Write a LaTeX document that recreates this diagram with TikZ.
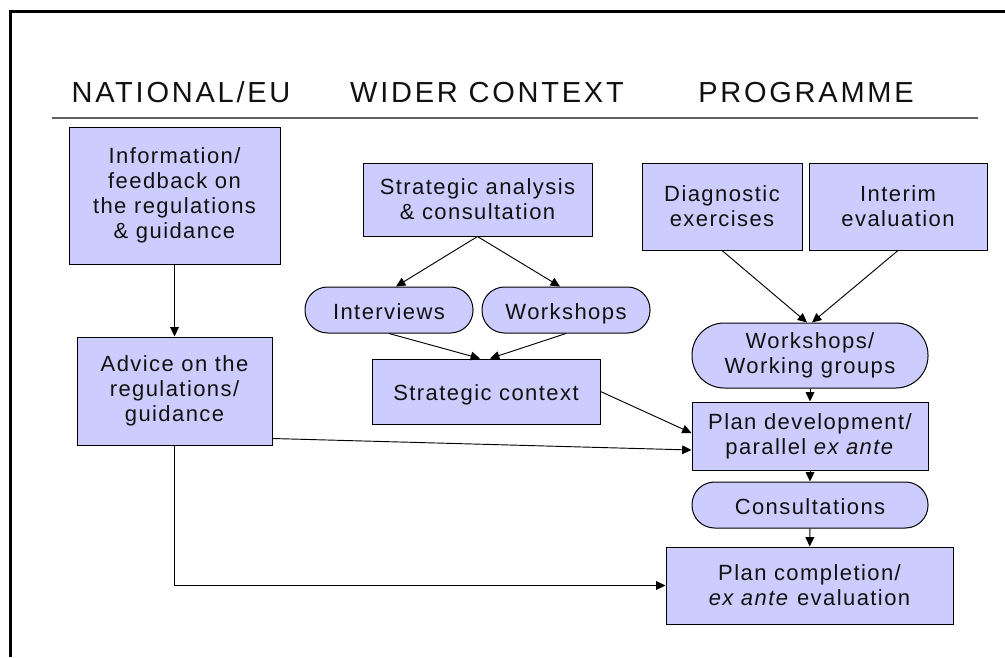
\documentclass[tikz,border=0pt]{standalone}
\usepackage{fontspec}
\setmainfont{Liberation Sans}[LetterSpace=6.5]
\newfontfamily\headfont{Liberation Sans}[LetterSpace=9.5]
\usetikzlibrary{arrows.meta,calc}
\definecolor{boxblue}{HTML}{CCCCFF}
\definecolor{inkgrey}{HTML}{111111}
\definecolor{rulegrey}{HTML}{606060}

\begin{document}
\begin{tikzpicture}[x=0.75pt,y=-0.75pt,
  txt/.style={font=\fontsize{16.5}{18.75}\selectfont, text=inkgrey, align=center, inner sep=0pt},
  oneline/.style={text height=16pt, text depth=2.5pt},
  hd/.style={font=\headfont\fontsize{21.75}{26}\selectfont, text=inkgrey, inner sep=0pt, anchor=base},
  box/.style 2 args={txt, draw=black, line width=0.75pt, fill=boxblue,
    minimum width=#1*0.75pt, minimum height=#2*0.75pt},
  pill/.style 2 args={box={#1}{#2}, rounded corners=#2*0.375pt-0.3pt},
  arr/.style={-{Triangle[length=7pt,width=6.5pt]}, line width=0.7pt, draw=black}]

\useasboundingbox (0,0) rectangle (1005,657);

% frame
\draw[line width=2.25pt] (10,657) -- (10,11) -- (1005,11);

% column headings and rule
\node[hd] (hnat) at (181,102.5) {NATIONAL/EU};
\node[hd] (hwide) at (487,102.5) {WIDER CONTEXT};
\node[hd] (hprog) at (806,102.5) {PROGRAMME};
\coordinate (ruleL) at (52,118);
\coordinate (ruleR) at (978,118);
\draw[rulegrey, line width=1.2pt] (ruleL) -- (ruleR);

% national / EU column
\node[box={211}{137}] (info) at (174.5,195.5) {Information/\\feedback on\\the regulations\\\& guidance};
\node[box={195}{108}] (advice) at (174.5,391) {Advice on the\\regulations/\\guidance};

% wider context column
\node[box={229}{73}] (sa) at (477.5,199.5) {Strategic analysis\\\& consultation};
\node[pill={168}{46}, oneline] (iv) at (389,310) {Interviews};
\node[pill={168}{46}, oneline] (ws) at (566,310) {Workshops};
\node[box={228}{65}, oneline] (sc) at (486,391.5) {Strategic context};

% programme column
\node[box={160}{87}] (diag) at (722,206.5) {Diagnostic\\exercises};
\node[box={178}{87}] (interim) at (898,206.5) {Interim\\evaluation};
\node[pill={236}{65}] (wwg) at (810,355.5) {Workshops/\\Working groups};
\node[box={236}{68}] (pd) at (810,436) {Plan development/\\parallel \textit{ex ante}};
\node[pill={236}{46}, oneline] (cons) at (810,505) {Consultations};
\node[box={287}{77}] (pc) at (809.5,585.5) {Plan completion/\\\textit{ex ante} evaluation};

% connectors
\draw[arr] (info) -- (advice);
\draw[arr] (sa.south) -- ($(iv.north)+(7,0)$);
\draw[arr] (sa.south) -- ($(ws.north)+(-6,0)$);
\draw[arr] (iv.south) -- ($(sc.north)+(-6,0)$);
\draw[arr] (ws.south) -- ($(sc.north)+(4,0)$);
\draw[arr] (diag.south) -- ($(wwg.north)+(-3,0)$);
\draw[arr] (interim.south) -- ($(wwg.north)+(2,0)$);
\draw[arr] (wwg) -- (pd);
\draw[arr] (sc.east) -- ($(pd.west)+(0,-3)$);
\draw[arr] ($(advice.south east)+(0,-7)$) -- ($(pd.west)+(0,14)$);
\draw[arr] (pd) -- (cons);
\draw[arr] (cons) -- (pc);
\draw[arr] (advice.south) |- (pc.west);
\end{tikzpicture}
\end{document}
